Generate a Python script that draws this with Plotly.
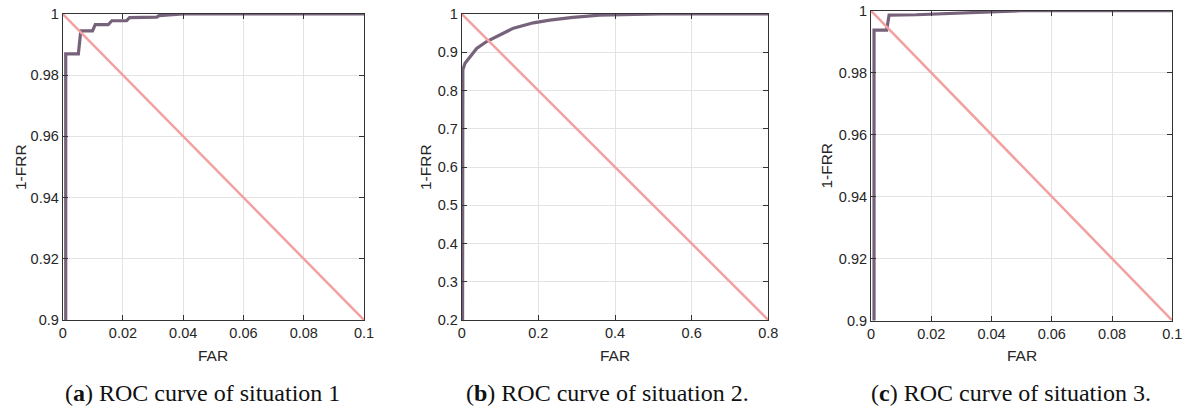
import plotly.graph_objects as go

W, H = 1184, 407

# ---- data ----
a_far = [0.001, 0.001, 0.0052, 0.006, 0.0099, 0.0108, 0.0151, 0.0163, 0.0212, 0.0222, 0.0312, 0.032, 0.04, 0.1]
a_tpr = [0.80, 0.987, 0.987, 0.9945, 0.9945, 0.9965, 0.9965, 0.9978, 0.9978, 0.9988, 0.9990, 0.9995, 1.0, 1.0]

b_far = [0.002, 0.002, 0.003, 0.0087, 0.0217, 0.039, 0.065, 0.1, 0.135, 0.187, 0.23, 0.29, 0.36, 0.45, 0.52, 0.8]
b_tpr = [0.0, 0.832, 0.854, 0.871, 0.889, 0.910, 0.928, 0.945, 0.963, 0.977, 0.984, 0.991, 0.997, 0.999, 1.0, 1.0]

c_far = [0.001, 0.001, 0.0052, 0.006, 0.015, 0.026, 0.04, 0.05, 0.1]
c_tpr = [0.80, 0.9937, 0.9937, 0.9986, 0.9987, 0.9991, 0.9995, 1.0, 1.0]

ac_diag_x = [0.0, 0.1]
ac_diag_y = [1.0, 0.9]
b_diag_x = [0.0, 0.8]
b_diag_y = [1.0, 0.2]

ac_xticks = [0, 0.02, 0.04, 0.06, 0.08, 0.1]
ac_xtext = ["0", "0.02", "0.04", "0.06", "0.08", "0.1"]
ac_yticks = [0.9, 0.92, 0.94, 0.96, 0.98, 1.0]
ac_ytext = ["0.9", "0.92", "0.94", "0.96", "0.98", "1"]
b_xticks = [0, 0.2, 0.4, 0.6, 0.8]
b_xtext = ["0", "0.2", "0.4", "0.6", "0.8"]
b_yticks = [0.2, 0.3, 0.4, 0.5, 0.6, 0.7, 0.8, 0.9, 1.0]
b_ytext = ["0.2", "0.3", "0.4", "0.5", "0.6", "0.7", "0.8", "0.9", "1"]

captions = ["(<b>a</b>) ROC curve of situation 1",
            "(<b>b</b>) ROC curve of situation 2.",
            "(<b>c</b>) ROC curve of situation 3."]

# ---- style ----
CURVE = "#76627a"
DIAG = "#f2a0a0"
AXIS = "#333333"
GRID = "#e3e3e3"
TXT = "#262626"
FONT = "Liberation Sans, Arial, Helvetica, sans-serif"

# pixel boxes (left, right, top, bottom)
boxes = [(62.7, 364.0, 14.0, 320.0),
         (461.7, 768.3, 14.0, 320.0),
         (871.0, 1172.3, 10.7, 320.5)]

fig = go.Figure()

panels = [
    (a_far, a_tpr, ac_diag_x, ac_diag_y, [0, 0.1], [0.9, 1.0], ac_xticks, ac_xtext, ac_yticks, ac_ytext),
    (b_far, b_tpr, b_diag_x, b_diag_y, [0, 0.8], [0.2, 1.0], b_xticks, b_xtext, b_yticks, b_ytext),
    (c_far, c_tpr, ac_diag_x, ac_diag_y, [0, 0.1], [0.9, 1.0], ac_xticks, ac_xtext, ac_yticks, ac_ytext),
]

layout = {}
annotations = []
ylab_x = [20, 425, 827]
cap_x = [202, 607, 1011]

for i, (fx, fy, dx, dy, xr, yr, xt, xtt, yt, ytt) in enumerate(panels):
    n = "" if i == 0 else str(i + 1)
    xa, ya = "x" + n, "y" + n
    fig.add_trace(go.Scatter(x=fx, y=fy, mode="lines", xaxis=xa, yaxis=ya,
                             line=dict(color=CURVE, width=3.2), showlegend=False))
    fig.add_trace(go.Scatter(x=dx, y=dy, mode="lines", xaxis=xa, yaxis=ya,
                             line=dict(color=DIAG, width=2.5), showlegend=False))
    l, r, t, b = boxes[i]
    common = dict(showline=True, linecolor=AXIS, linewidth=1, mirror="allticks",
                  ticks="inside", ticklen=5, tickcolor=AXIS, showgrid=True,
                  gridcolor=GRID, gridwidth=1, zeroline=False, automargin=False,
                  tickfont=dict(family=FONT, size=14.5, color=TXT))
    layout["xaxis" + n] = dict(domain=[l / W, r / W], range=xr, anchor=ya,
                               tickvals=xt, ticktext=xtt, **common)
    layout["yaxis" + n] = dict(domain=[1 - b / H, 1 - t / H], range=yr, anchor=xa,
                               tickvals=yt, ticktext=ytt, **common)
    # FAR label
    annotations.append(dict(x=(l + r) / 2 / W, y=1 - 355 / H, xref="paper", yref="paper",
                            text="FAR", showarrow=False, xanchor="center", yanchor="middle",
                            font=dict(family=FONT, size=15.5, color=TXT)))
    # 1-FRR label
    annotations.append(dict(x=ylab_x[i] / W, y=1 - (t + b) / 2 / H, xref="paper", yref="paper",
                            text="1-FRR", showarrow=False, textangle=-90,
                            xanchor="center", yanchor="middle",
                            font=dict(family=FONT, size=15.5, color=TXT)))
    # caption
    annotations.append(dict(x=cap_x[i] / W, y=1 - 393 / H, xref="paper", yref="paper",
                            text=captions[i], showarrow=False, xanchor="center", yanchor="middle",
                            font=dict(family="Liberation Serif, Times New Roman, serif", size=24, color="#111111")))

fig.update_layout(width=W, height=H, margin=dict(l=0, r=0, t=0, b=0, autoexpand=False),
                  paper_bgcolor="white", plot_bgcolor="white",
                  annotations=annotations, **layout)

fig.write_html("out.html")
